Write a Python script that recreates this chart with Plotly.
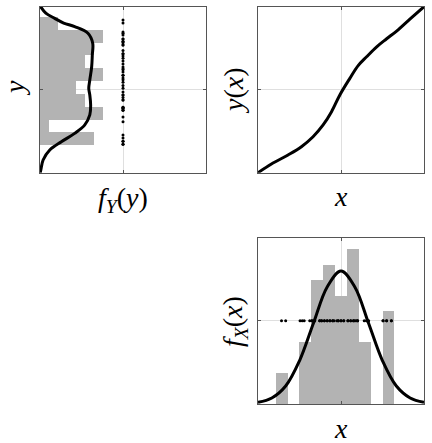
import plotly.graph_objects as go

# samples of X (dots + histogram, bottom-right panel)
x_samples = [-2.15, -2.00,
             -1.48, -1.40, -1.33, -1.13,
             -1.05, -1.05, -0.95, -0.95, -0.77, -0.77, -0.70, -0.70,
             -0.60, -0.60, -0.50, -0.50, -0.40, -0.40, -0.30, -0.30, -0.25,
             -0.15, -0.10, -0.10, 0.00, 0.00, 0.10, 0.10,
             0.25, 0.25, 0.35, 0.35, 0.45, 0.45, 0.50, 0.55, 0.60, 0.60,
             0.84, 0.92, 0.95, 1.00,
             1.52, 1.52, 1.65, 1.65, 1.82, 1.82]

# samples of Y (dots + histogram, top-left panel)
y_samples = [-1.97, -1.97, -1.86, -1.86, -1.75, -1.64,
             -1.16,
             -0.99, -0.74, -0.74, -0.68, -0.68, -0.63, -0.63,
             -0.37, -0.37, -0.28, -0.19, -0.19,
             -0.08, 0.05, 0.15, 0.27,
             0.36, 0.42, 0.52, 0.52, 0.64, 0.72, 0.76,
             0.82, 0.93, 1.04, 1.14, 1.22,
             1.30, 1.30, 1.42, 1.62, 1.62, 1.70,
             1.74, 1.74, 1.83, 1.83, 1.98, 2.04, 2.09,
             2.41, 2.52]

# density of X
fx_x = [-3.0, -2.5, -2.0, -1.5, -1.0, -0.5, 0.0, 0.5, 1.0, 1.5, 2.0, 2.5, 3.0]
fx_val = [0.005, 0.018, 0.054, 0.130, 0.242, 0.352, 0.400, 0.352, 0.242, 0.130, 0.054, 0.018, 0.005]

# transform y(x)
map_x = [-3.0, -2.515, -1.914, -1.43, -1.01, -0.646, -0.342, -0.042, 0.32, 0.62, 0.925,
         1.29, 1.65, 2.01, 2.5, 3.0]
map_y = [-3.0, -2.685, -2.36, -2.06, -1.70, -1.275, -0.795, -0.19, 0.41, 0.87, 1.19,
         1.55, 1.84, 2.12, 2.56, 3.0]

# density of Y
fy_y = [3.0, 2.77, 2.58, 2.41, 2.28, 2.04, 1.68, 1.25, 0.83, 0.35, 0.05, -0.19, -0.55,
        -0.91, -1.28, -1.58, -1.88, -2.18, -2.54, -2.9, -3.0]
fy_val = [0.003, 0.028, 0.071, 0.114, 0.167, 0.231, 0.254, 0.252, 0.249, 0.240, 0.235,
          0.240, 0.244, 0.240, 0.215, 0.167, 0.103, 0.047, 0.015, 0.004, 0.001]

GRAY = "#b3b3b3"
BLACK = "black"

fig = go.Figure()

# top-left: f_Y(y)
fig.add_trace(go.Histogram(y=y_samples, orientation="h", histnorm="probability density",
                           ybins=dict(start=-1.998, end=2.64, size=0.4637),
                           marker=dict(color=GRAY, line=dict(width=0)),
                           xaxis="x", yaxis="y", showlegend=False))
fig.add_trace(go.Scatter(x=fy_val, y=fy_y, mode="lines", line=dict(color=BLACK, width=3, shape="spline"),
                         xaxis="x", yaxis="y", showlegend=False))
fig.add_trace(go.Scatter(x=[0.4] * len(y_samples), y=y_samples, mode="markers",
                         marker=dict(color=BLACK, size=3), xaxis="x", yaxis="y", showlegend=False))

# top-right: y(x)
fig.add_trace(go.Scatter(x=map_x, y=map_y, mode="lines", line=dict(color=BLACK, width=3, shape="spline"),
                         xaxis="x2", yaxis="y2", showlegend=False))

# bottom-right: f_X(x)
fig.add_trace(go.Histogram(x=x_samples, histnorm="probability density",
                           xbins=dict(start=-2.36, end=1.93, size=0.429),
                           marker=dict(color=GRAY, line=dict(width=0)),
                           xaxis="x3", yaxis="y3", showlegend=False))
fig.add_trace(go.Scatter(x=fx_x, y=fx_val, mode="lines", line=dict(color=BLACK, width=3, shape="spline"),
                         xaxis="x3", yaxis="y3", showlegend=False))
fig.add_trace(go.Scatter(x=x_samples, y=[0.25] * len(x_samples), mode="markers",
                         marker=dict(color=BLACK, size=3), xaxis="x3", yaxis="y3", showlegend=False))

W, H = 432, 443
left_dom = [40 / W, 206 / W]
right_dom = [258 / W, 424 / W]
top_dom = [1 - 172.7 / H, 1 - 6.7 / H]
bot_dom = [1 - 404 / H, 1 - 237.7 / H]


def ax(domain, rng, mid, anchor):
    return dict(domain=domain, range=rng, tickvals=[mid], showticklabels=False,
                showgrid=True, gridcolor="rgba(40,40,40,0.15)", gridwidth=1,
                zeroline=False, showline=True, linecolor="#555", linewidth=1,
                mirror="ticks", ticks="inside", ticklen=3, tickcolor="#555",
                layer="above traces", anchor=anchor, fixedrange=True)


fig.update_layout(
    width=W, height=H,
    margin=dict(l=0, r=0, t=0, b=0),
    paper_bgcolor="white", plot_bgcolor="white",
    bargap=0,
    xaxis=ax(left_dom, [0, 0.8], 0.4, "y"),
    yaxis=ax(top_dom, [-3, 3], 0, "x"),
    xaxis2=ax(right_dom, [-3, 3], 0, "y2"),
    yaxis2=ax(top_dom, [-3, 3], 0, "x2"),
    xaxis3=ax(right_dom, [-3, 3], 0, "y3"),
    yaxis3=ax(bot_dom, [0, 0.5], 0.25, "x3"),
)

label_font = dict(family="Liberation Serif", size=28, color="black")
labels = [
    ("<i>f</i><sub><i>Y</i></sub>(<i>y</i>)", 123, 200, 0),
    ("<i>y</i>", 15, 88, -90),
    ("<i>x</i>", 341, 196, 0),
    ("<i>y</i>(<i>x</i>)", 234, 90, -90),
    ("<i>f</i><sub><i>X</i></sub>(<i>x</i>)", 234, 321, -90),
    ("<i>x</i>", 341, 428, 0),
]
for text, px, py, ang in labels:
    fig.add_annotation(text=text, x=px / W, y=1 - py / H, xref="paper", yref="paper",
                       xanchor="center", yanchor="middle", showarrow=False,
                       textangle=ang, font=label_font)

# drop the default 8px page margin so the figure sits at the window's corner
fig.write_html("out.html", config={"displayModeBar": False},
               post_script="document.body.style.margin = '0px';")
